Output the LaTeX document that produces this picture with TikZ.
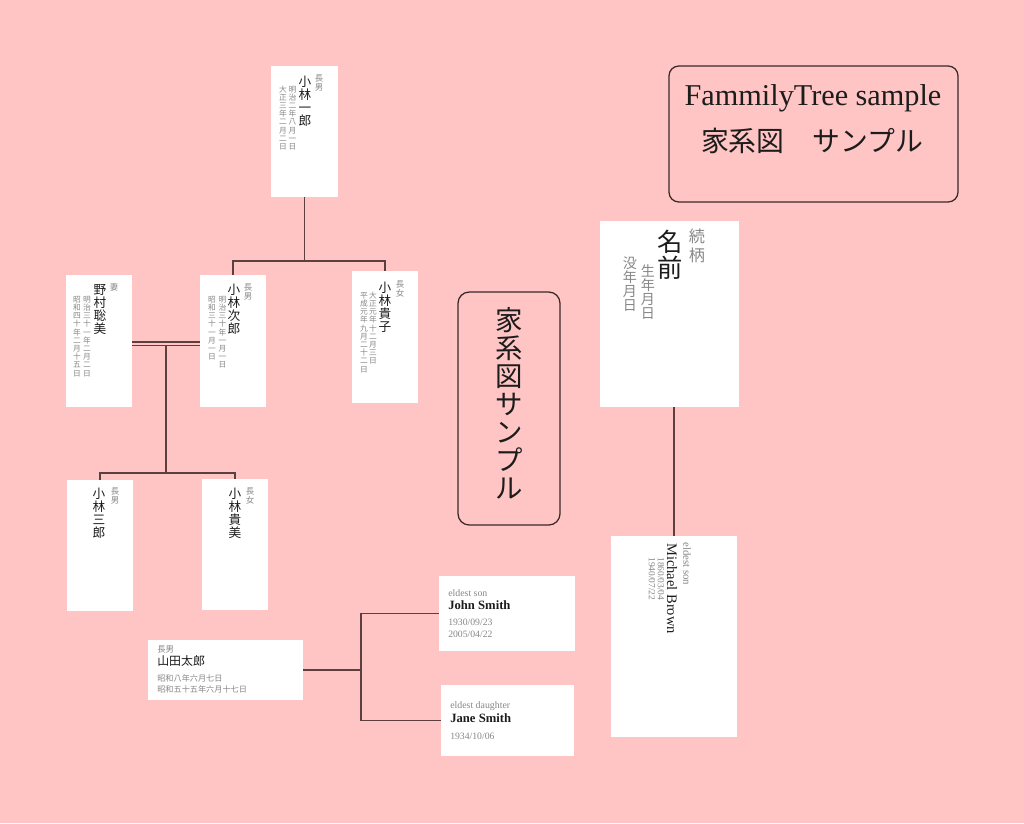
\documentclass[tikz,border=0pt]{standalone}
\usepackage{fontspec}
\setmainfont{Liberation Serif}
\newfontfamily\jp{Noto Sans CJK JP}
\usetikzlibrary{fit}

\definecolor{bgpink}{RGB}{255,196,196}
\definecolor{linkc}{RGB}{92,64,64}
\definecolor{framec}{RGB}{58,40,40}
\definecolor{inkc}{RGB}{28,28,28}
\definecolor{greyc}{RGB}{135,135,135}

% vertical (tategaki) column: one glyph per line
\makeatletter
\newcommand\tate[2][0pt]{\vbox{\offinterlineskip\@tfor\tch:=#2\do{\hbox to 1em{\hss\vrule height .88em depth .12em width 0pt\tch\hss}\kern#1}}}
\makeatother

\tikzset{
  card/.style={fill=white,inner sep=0pt},
  link/.style={draw=linkc,line width=0.9pt},
  frame/.style={draw=framec,line width=0.9pt,rounded corners=7pt,inner sep=0pt},
  col/.style={anchor=north,inner sep=0pt},
  jrole/.style={col,text=greyc,font=\jp\fontsize{6}{6}\selectfont},
  jname/.style={col,text=inkc,font=\jp\fontsize{9}{9}\selectfont},
  jdate/.style={col,text=greyc,font=\jp\fontsize{5.5}{5.5}\selectfont},
  rot/.style={rotate=-90,anchor=west,inner sep=0pt},
  lat/.style={anchor=west,inner sep=0pt},
}

\begin{document}
\begin{tikzpicture}[x=0.025cm,y=-0.025cm]
  \fill[bgpink] (0,0) rectangle (1024,823);
  % ---------------- cards ----------------
  \foreach \nm/\xa/\ya/\xb/\yb in {A/271/66/338/197, B/66/275/132/407, C/200/275/266/407,
      D/352/271/418/403, E/67/480/133/611, F/202/479/268/610, G/600/221/739/407,
      H/611/536/737/737, I/148/640/303/700, J/439/576/575/651, K/441/685/574/756}
    \node[card,fit={(\xa,\ya) (\xb,\yb)}] (\nm) {};
  % ---------------- connectors ----------------
  \coordinate (jA) at (A.south |- 0,261);
  \draw[link] (A.south) -- (jA);
  \draw[link] (C.north) |- (jA) -| (D.north);
  \draw[link] (B.east |- 0,342) -- (C.west |- 0,342);
  \draw[link] (B.east |- 0,345.5) -- (C.west |- 0,345.5);
  \coordinate (mB) at (166,345.5);
  \coordinate (jB) at (166,473);
  \draw[link] (mB) -- (jB);
  \draw[link] (E.north) |- (jB) -| (F.north);
  \draw[link] (G.south -| H.north) -- (H.north);
  \coordinate (jI) at (361,670);
  \draw[link] (I.east) -- (jI);
  \draw[link] (J.west) -| (jI) |- (K.west);
  % ---------------- Kobayashi family ----------------
  \node[jrole] (A-r) at (319,74) {\tate[.4pt]{長男}};
  \node[jname] (A-n) at (305,75) {\tate[.25pt]{小林一郎}};
  \node[jdate] (A-b) at (292.5,85) {\tate[.35pt]{明治二年八月一日}};
  \node[jdate] (A-d) at (283,85) {\tate[.35pt]{大正三年二月二日}};
  \node[jrole] (B-r) at (114,283) {\tate[.4pt]{妻}};
  \node[jname] (B-n) at (100,283) {\tate[.25pt]{野村聡美}};
  \node[jdate] (B-b) at (87,295) {\tate[.35pt]{明治三十一年二月二日}};
  \node[jdate] (B-d) at (77,295) {\tate[.35pt]{昭和四十年二月十五日}};
  \node[jrole] (C-r) at (248,283) {\tate[.4pt]{長男}};
  \node[jname] (C-n) at (234,283) {\tate[.25pt]{小林次郎}};
  \node[jdate] (C-b) at (222.5,295) {\tate[.35pt]{明治三十年一月一日}};
  \node[jdate] (C-d) at (212,295) {\tate[.35pt]{昭和三十一月一日}};
  \node[jrole] (D-r) at (400,280) {\tate[.4pt]{長女}};
  \node[jname] (D-n) at (385,281) {\tate[.25pt]{小林貴子}};
  \node[jdate] (D-b) at (373,291) {\tate[.35pt]{大正元年十二月三日}};
  \node[jdate] (D-d) at (364,291) {\tate[.35pt]{平成元年九月二十二日}};
  \node[jrole] (E-r) at (115,487) {\tate[.4pt]{長男}};
  \node[jname] (E-n) at (99,487) {\tate[.25pt]{小林三郎}};
  \node[jrole] (F-r) at (250,487) {\tate[.4pt]{長女}};
  \node[jname] (F-n) at (235,487) {\tate[.25pt]{小林貴美}};
  % ---------------- template card ----------------
  \node[col,text=greyc,font=\jp\fontsize{11.5}{11.5}\selectfont] (G-r) at (697,228) {\tate[1.7pt]{続柄}};
  \node[col,text=inkc,font=\jp\fontsize{18}{18}\selectfont] (G-n) at (670,229) {\tate[.5pt]{名前}};
  \node[col,text=greyc,font=\jp\fontsize{10}{10}\selectfont] (G-b) at (648,264) {\tate{生年月日}};
  \node[col,text=greyc,font=\jp\fontsize{10}{10}\selectfont] (G-d) at (630,256) {\tate{没年月日}};
  \node[rot,text=greyc,font=\fontsize{7.7}{8}\selectfont] (H-r) at (687,542) {eldest son};
  \node[rot,text=inkc,font=\fontsize{10.3}{11}\selectfont] (H-n) at (672,543) {Michael Brown};
  \node[rot,text=greyc,font=\fontsize{6.7}{7}\selectfont] (H-b) at (661,557) {1860/03/04};
  \node[rot,text=greyc,font=\fontsize{6.7}{7}\selectfont] (H-d) at (652,557) {1940/07/22};
  % ---------------- horizontal cards ----------------
  \node[lat,text=greyc,font=\jp\fontsize{6}{6}\selectfont] (I-r) at (157,649) {長男};
  \node[lat,text=inkc,font=\jp\fontsize{8.5}{8.5}\selectfont] (I-n) at (157,661) {山田太郎};
  \node[lat,text=greyc,font=\jp\fontsize{5.8}{5.8}\selectfont] (I-b) at (157,678) {昭和八年六月七日};
  \node[lat,text=greyc,font=\jp\fontsize{5.8}{5.8}\selectfont] (I-d) at (157,689) {昭和五十五年六月十七日};
  \node[lat,text=greyc,font=\fontsize{7}{7}\selectfont] (J-r) at (448,593) {eldest son};
  \node[lat,text=inkc,font=\bfseries\fontsize{9}{9}\selectfont] (J-n) at (448,605) {John Smith};
  \node[lat,text=greyc,font=\fontsize{6.9}{7}\selectfont] (J-b) at (448,622.5) {1930/09/23};
  \node[lat,text=greyc,font=\fontsize{6.9}{7}\selectfont] (J-d) at (448,634) {2005/04/22};
  \node[lat,text=greyc,font=\fontsize{7}{7}\selectfont] (K-r) at (450,706) {eldest daughter};
  \node[lat,text=inkc,font=\bfseries\fontsize{9}{9}\selectfont] (K-n) at (450,718.5) {Jane Smith};
  \node[lat,text=greyc,font=\fontsize{6.9}{7}\selectfont] (K-b) at (450,736) {1934/10/06};
  % ---------------- titles ----------------
  \node[frame,fit={(669,66) (958,202)}] (T) {};
  \node[text=inkc,font=\fontsize{21.5}{21.5}\selectfont] (T-en) at (813,98) {FammilyTree sample};
  \node[text=inkc,font=\jp\fontsize{19.8}{19.8}\selectfont] (T-jp) at (812,141) {家系図　サンプル};
  \node[frame,rounded corners=8pt,fit={(458,292) (560,525)}] (M) {};
  \node[col,text=inkc,font=\jp\fontsize{19.5}{19.5}\selectfont] (M-jp) at (509,306) {\tate[.4pt]{家系図サンプル}};
\end{tikzpicture}
\end{document}
